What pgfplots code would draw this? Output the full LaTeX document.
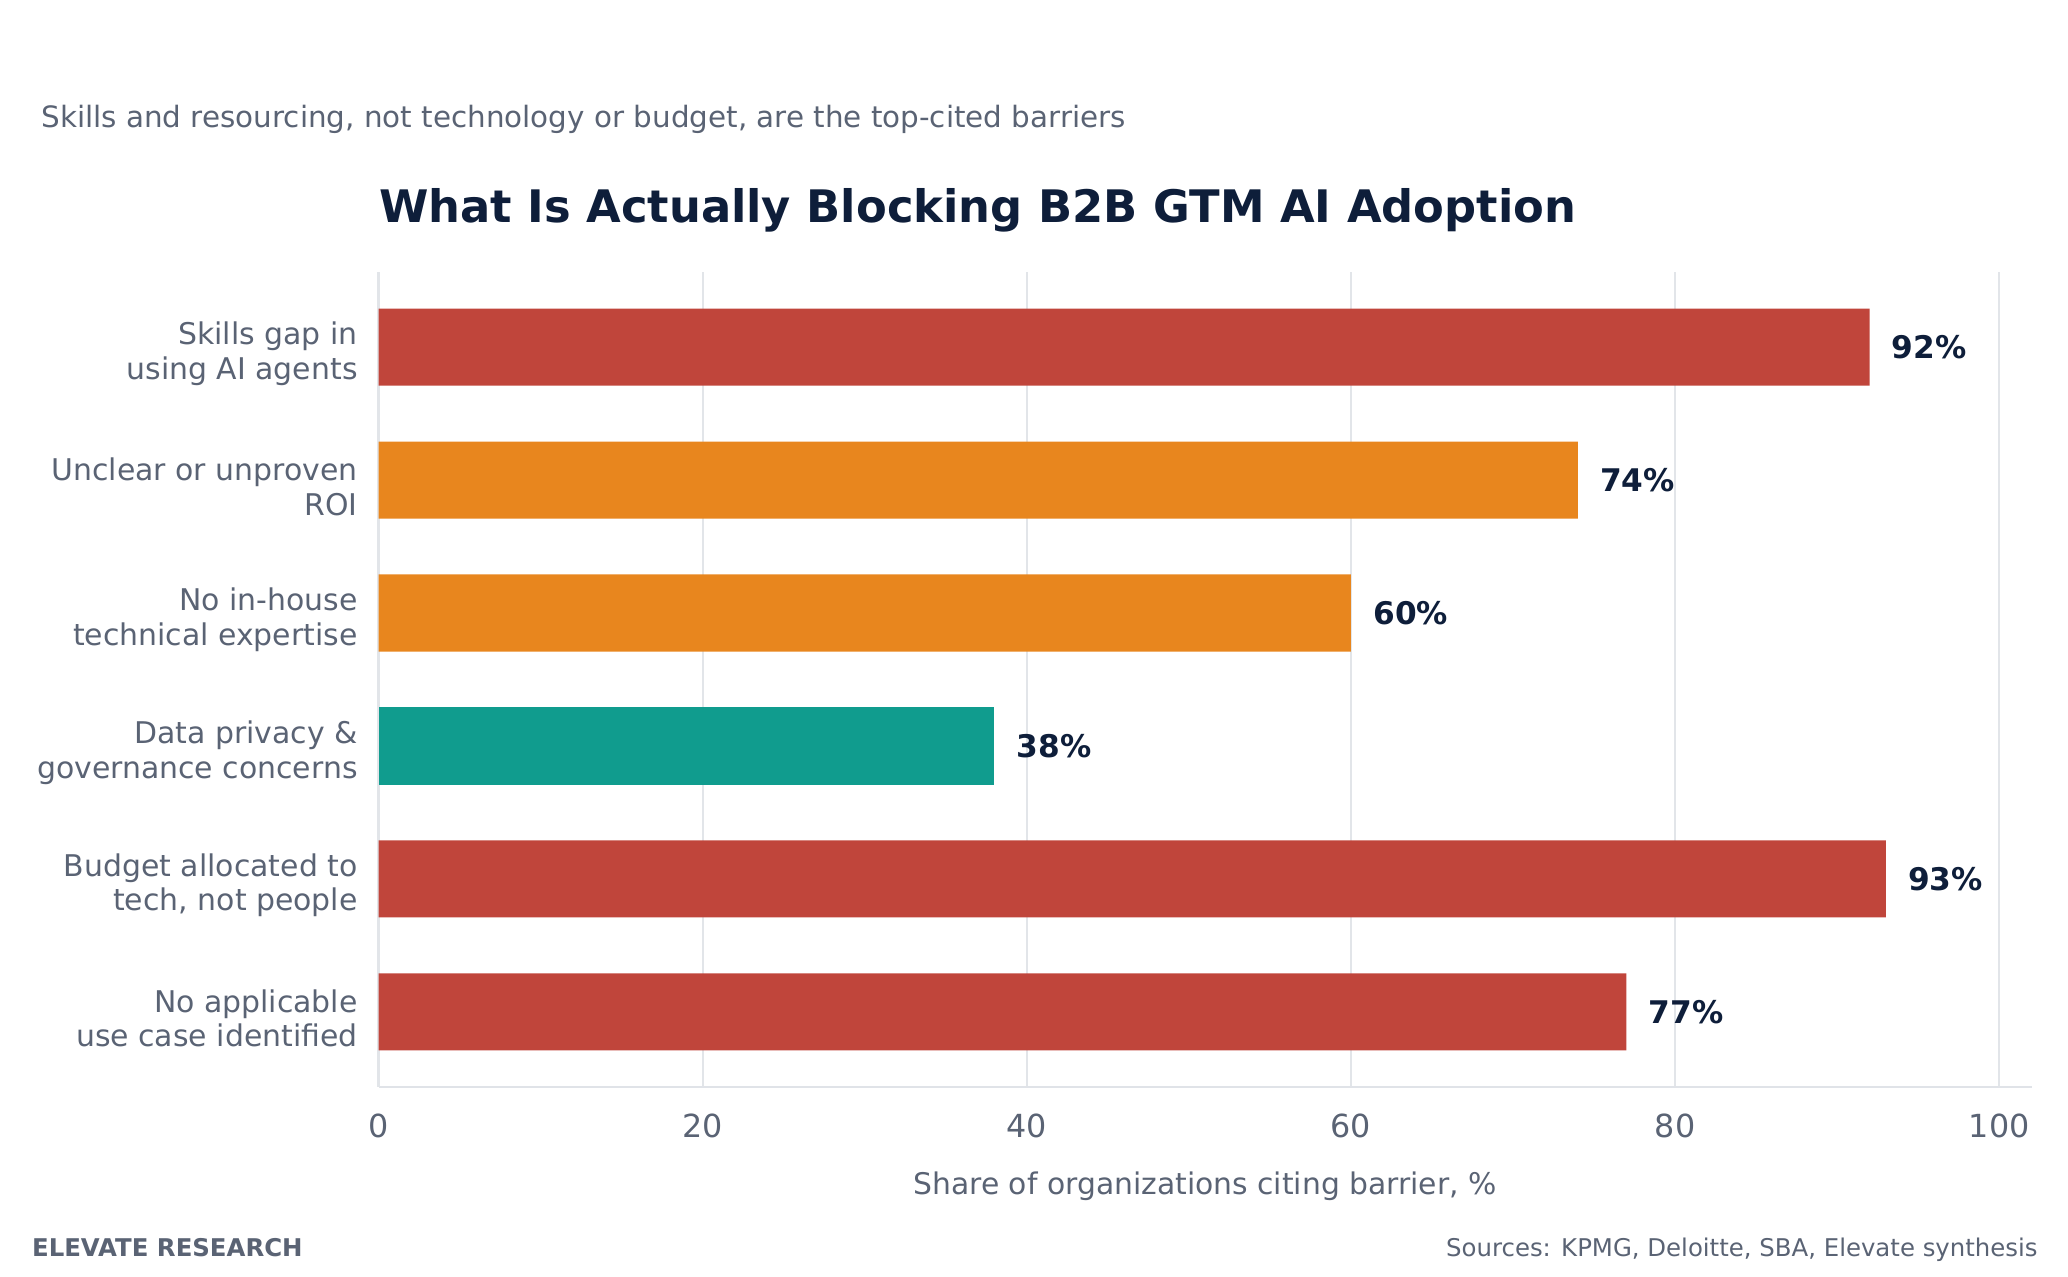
\documentclass[border=0pt]{standalone}
\usepackage{fontspec}
\setmainfont{DejaVu Sans}
\usepackage{pgfplots}
\pgfplotsset{compat=1.18}
\definecolor{barred}{HTML}{C0453B}
\definecolor{barorange}{HTML}{E8861E}
\definecolor{barteal}{HTML}{109C8E}
\definecolor{navy}{HTML}{0E1E3A}
\definecolor{textgray}{HTML}{5A6374}
\definecolor{gridgray}{HTML}{E2E5E9}
\definecolor{axisgray}{HTML}{E0E3E8}
\begin{document}
\begin{tikzpicture}
\useasboundingbox (0,0) rectangle (1034pt,638pt);
\begin{axis}[
  at={(189.3pt,94.5pt)}, anchor=south west,
  scale only axis, width=826.5pt, height=407.5pt,
  xmin=0, xmax=102, ymin=-0.565, ymax=5.565, y dir=reverse,
  clip=false,
  axis x line*=bottom, axis y line*=left,
  x axis line style={draw=axisgray, line width=1.3pt},
  y axis line style={draw=none},
  xmajorgrids, major grid style={draw=gridgray, line width=1.2pt},
  major tick length=0pt,
  tick style={draw=none},
  xtick={0,20,40,60,80,100},
  ytick={0,1,2,3,4,5},
  yticklabels={{Skills gap in\\using AI agents},{Unclear or unproven\\ROI},{No in-house\\technical expertise},{Data privacy \&\\governance concerns},{Budget allocated to\\tech, not people},{No applicable\\use case identified}},
  yticklabel style={align=right, font=\fontsize{14.95}{17.2}\selectfont, text=textgray, inner sep=0pt, xshift=-10.3pt, yshift=-3.3pt},
  xticklabel style={font=\fontsize{15.9}{18}\selectfont, text=textgray, inner sep=0pt, yshift=-13pt},
  /pgf/number format/assume math mode=true,
  xlabel={Share of organizations citing barrier, \%},
  xlabel style={at={(axis description cs:0.5,0)}, anchor=base, yshift=-53.5pt, font=\fontsize{14.9}{17}\selectfont, text=textgray},
  point meta=x,
  nodes near coords={\pgfmathprintnumber{\pgfplotspointmeta}\%},
  every node near coord/.append style={anchor=west, inner sep=0pt, xshift=11pt, font=\fontsize{15.6}{18}\selectfont\bfseries, text=navy},
]
\addplot[xbar, bar width=0.58, bar shift=0pt, fill=barred, draw=none] coordinates {(92,0) (93,4) (77,5)};
\addplot[xbar, bar width=0.58, bar shift=0pt, fill=barorange, draw=none] coordinates {(74,1) (60,2)};
\addplot[xbar, bar width=0.58, bar shift=0pt, fill=barteal, draw=none] coordinates {(38,3)};
\end{axis}
\node[anchor=base west, inner sep=0pt, font=\fontsize{22.4}{26}\selectfont\bfseries, text=navy] at (189.3pt,526.65pt) {What Is Actually Blocking B2B GTM AI Adoption};
\node[anchor=base west, inner sep=0pt, font=\fontsize{14.7}{17}\selectfont, text=textgray] at (20.5pt,574.15pt) {Skills and resourcing, not technology or budget, are the top-cited barriers};
\node[anchor=base west, inner sep=0pt, font=\fontsize{12.2}{14}\selectfont\bfseries, text=textgray] at (15.85pt,9.65pt) {ELEVATE RESEARCH};
\node[anchor=base east, inner sep=0pt, font=\fontsize{12.2}{14}\selectfont, text=textgray] at (1019pt,9.65pt) {Sources: KPMG, Deloitte, SBA, Elevate synthesis};
\end{tikzpicture}
\end{document}
